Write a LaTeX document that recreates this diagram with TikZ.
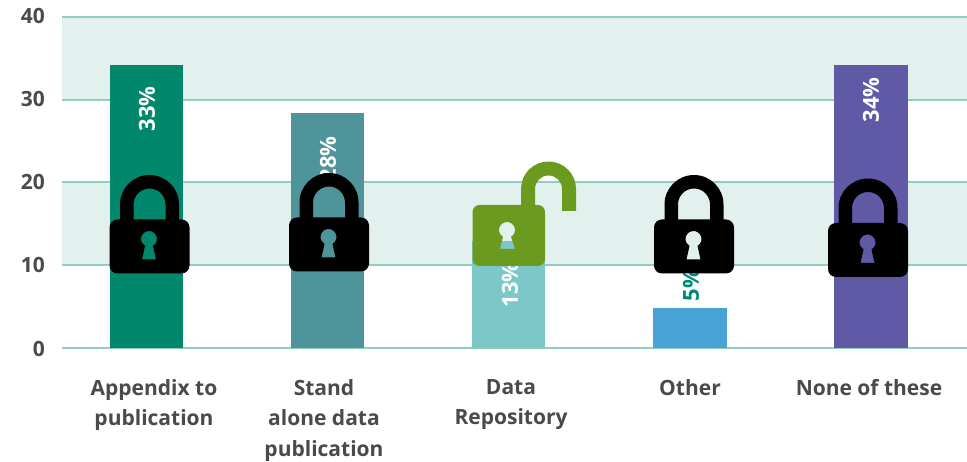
\documentclass[tikz,border=0pt]{standalone}
\usepackage{fontspec}
\setmainfont{Open Sans}
\definecolor{bandc}{HTML}{E3F1EE}
\definecolor{gridc}{HTML}{8FCFC2}
\definecolor{labc}{HTML}{4A4A4A}
\definecolor{barA}{HTML}{00876C}
\definecolor{barB}{HTML}{4F939B}
\definecolor{barC}{HTML}{7CC8C9}
\definecolor{barD}{HTML}{4AA3D6}
\definecolor{barE}{HTML}{5F59A6}
\definecolor{lockg}{HTML}{6B9B1E}
\definecolor{pctteal}{HTML}{00897B}
\tikzset{
  band/.style={fill=bandc,draw=none},
  gridline/.style={draw=gridc,line width=1.6pt},
  ticklab/.style={font=\fontsize{21}{21}\selectfont\bfseries,text=labc,anchor=east,inner sep=0pt},
  catlab/.style={font=\fontsize{21}{30.5}\selectfont\bfseries,text=labc,align=center,anchor=north,inner sep=0pt},
  pct/.style={font=\fontsize{22}{22}\selectfont\bfseries,rotate=90,inner sep=0pt},
  pics/closedlock/.style={code={
    \fill[black,even odd rule]
      [rounded corners=8pt] (0,0) rectangle (80,54)
      [sharp corners] (32.5,40) -- (46.5,40) -- (43.5,26.4) arc[start angle=60,end angle=-240,radius=8] -- cycle;
    \fill[black]
      (10.5,1) -- (10.5,-15) arc[start angle=180,end angle=360,radius=29.5] -- (69.5,1) -- (56,1) -- (56,-15) arc[start angle=360,end angle=180,radius=16] -- (24,1) -- cycle;
  }}
}
\begin{document}
\begin{tikzpicture}[x=1pt,y=-1pt]
\useasboundingbox (0,0) rectangle (967,462);
\fill[white] (0,0) rectangle (967,462);
% bands
\fill[band] (62,17) rectangle (967,100);
\fill[band] (62,182) rectangle (967,265);
% grid lines
\foreach \yy in {17,100,182,265,348} \draw[gridline] (62,\yy) -- (967,\yy);
% bars
\fill[barA] (109.5,65) rectangle (183,348);
\fill[barB] (291,113) rectangle (364,348);
\fill[barC] (472,241) rectangle (545,348);
\fill[barD] (653,308) rectangle (727,348);
\fill[barE] (834,65) rectangle (908,348);
% tick labels
\node[ticklab] (t40) at (45,16) {40};
\node[ticklab] (t30) at (45,99) {30};
\node[ticklab] (t20) at (45,182) {20};
\node[ticklab] (t10) at (45,265) {10};
\node[ticklab] (t0) at (45,349) {0};
% percentages
\node[pct,text=white] (p33) at (147,109) {33\%};
\node[pct,text=white] (p28) at (328,159) {28\%};
\node[pct,text=white] (p13) at (510,285) {13\%};
\node[pct,text=pctteal] (p5) at (691,285) {5\%};
\node[pct,text=white] (p34) at (871,100) {34\%};
% category labels
\node[catlab] (c1) at (154,379) {Appendix to\\publication};
\node[catlab] (c2) at (324,379) {Stand\\alone data\\publication};
\node[catlab] (c3) at (511,379) {Data\\Repository};
\node[catlab] (c4) at (690,379) {Other};
\node[catlab] (c5) at (869,379) {None of these};
% closed locks
\pic at (109.5,219.5) {closedlock};
\pic at (289,217.5) {closedlock};
\pic at (654,219.5) {closedlock};
\pic at (828,223) {closedlock};
% open lock
\fill[lockg,even odd rule]
  [rounded corners=7pt] (472.5,205) rectangle (545,266)
  [sharp corners] (500,249) -- (515,249) -- (511,236.9) arc[start angle=60,end angle=-240,radius=8] -- cycle;
\fill[lockg]
  (521,206) -- (521,189) arc[start angle=180,end angle=360,radius=27.5] -- (576,211) -- (562,211) -- (562,189) arc[start angle=360,end angle=180,radius=13.5] -- (535,206) -- cycle;
\end{tikzpicture}
\end{document}
